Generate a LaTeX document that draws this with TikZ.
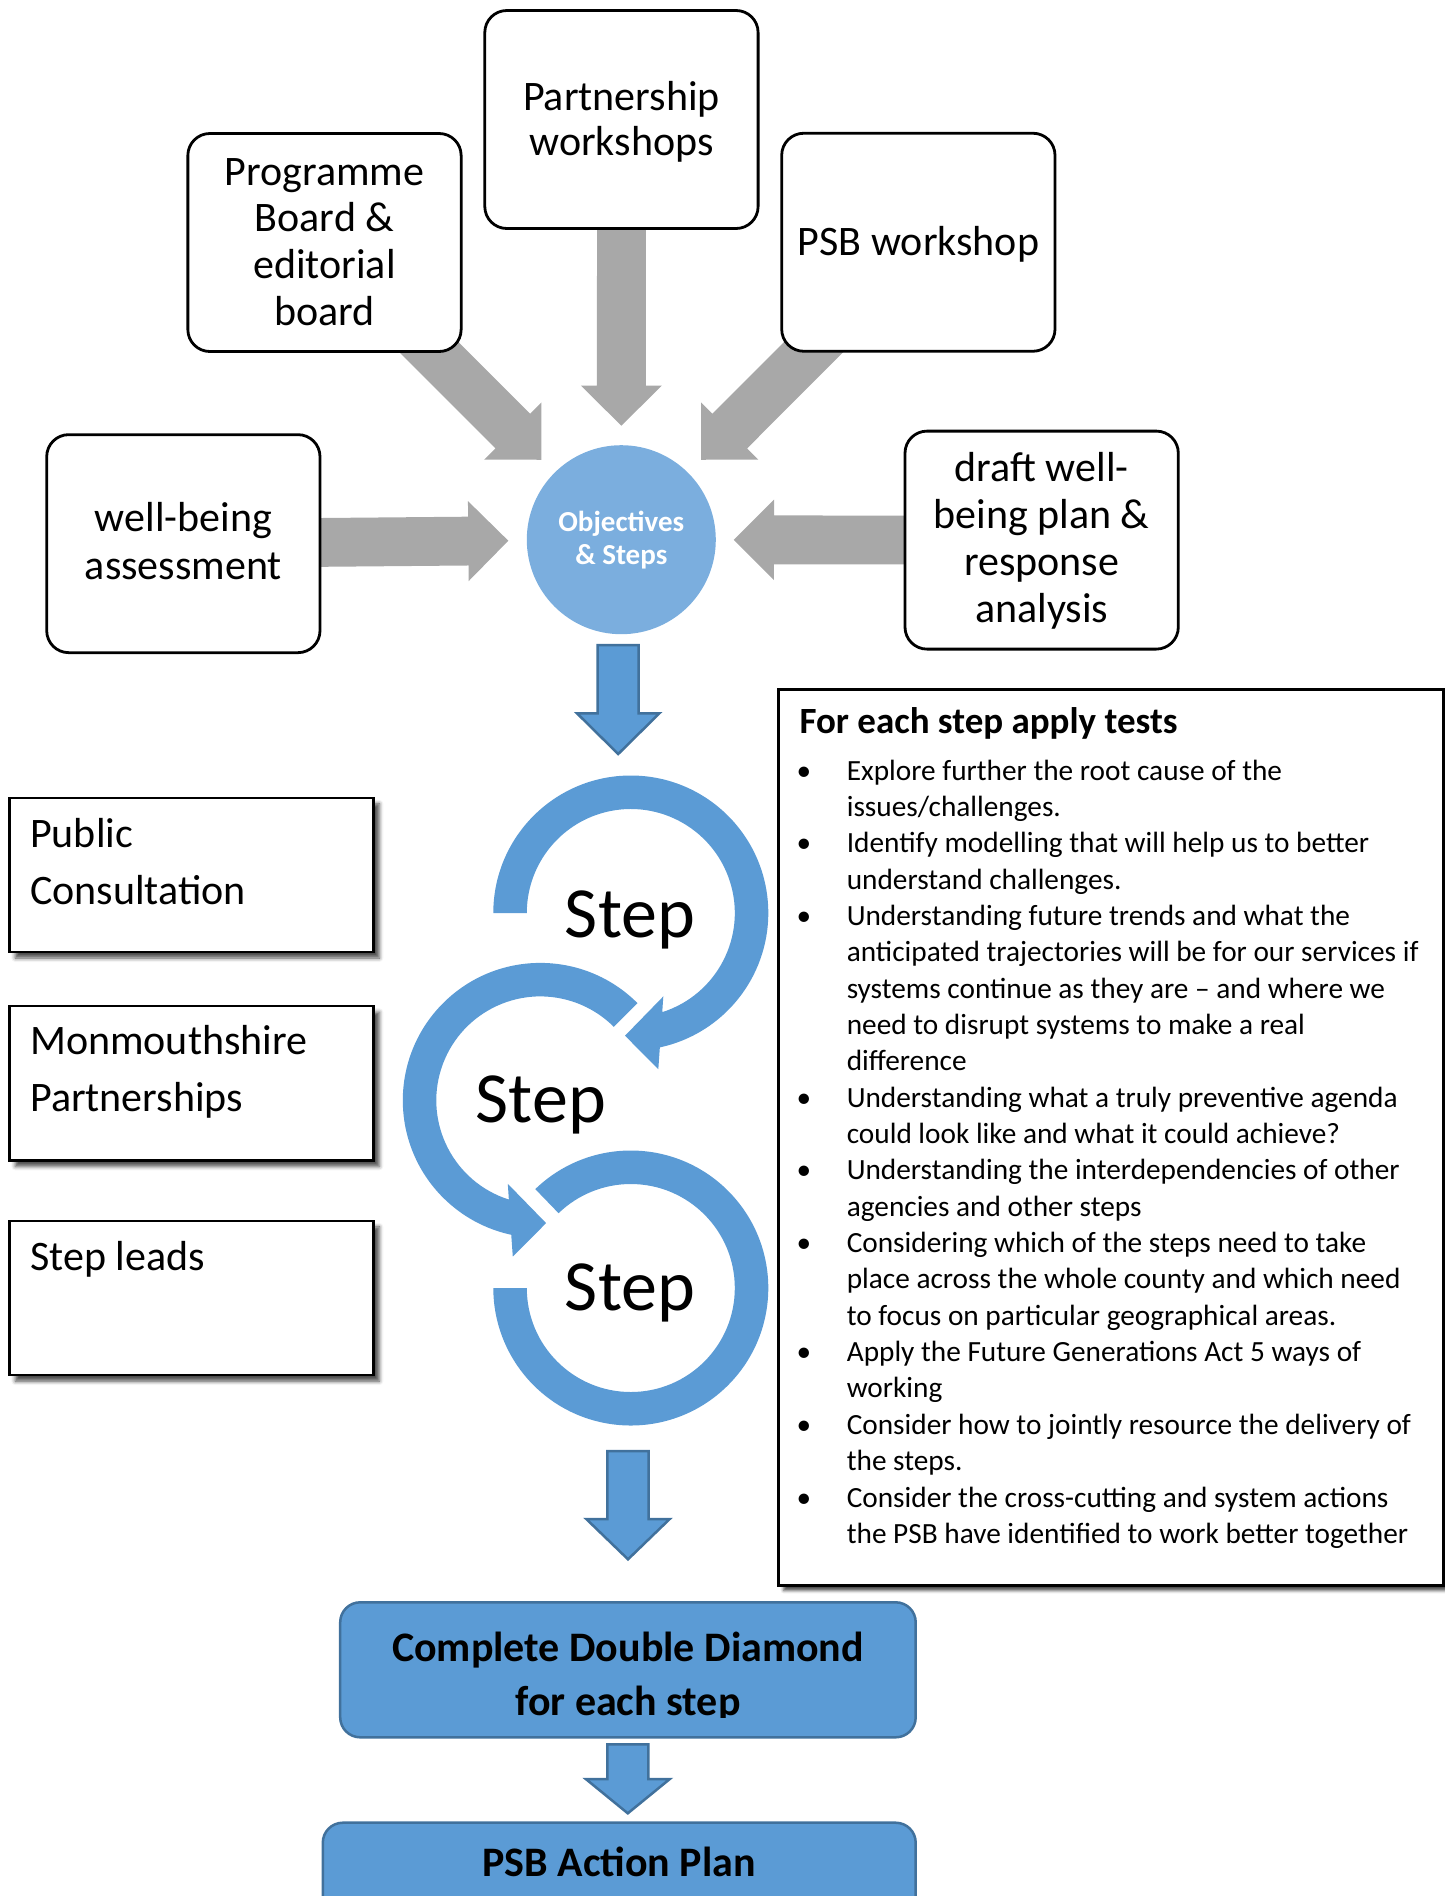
\documentclass[tikz,border=0pt]{standalone}
\usepackage{fontspec}
\setmainfont{Carlito}
\usetikzlibrary{calc,shadows.blur}
\definecolor{ringblue}{RGB}{91,155,213}
\definecolor{edgeblue}{RGB}{65,113,156}
\definecolor{circblue}{RGB}{123,174,222}
\definecolor{arrgray}{RGB}{168,168,168}
% #1 name, #2 style, #3 from, #4 to, #5 shaft half width, #6 head half width, #7 head length
\newcommand\blockarrow[7]{%
  \coordinate (#1-b) at ($(#4)!#7pt!(#3)$);
  \path[#2] ($(#3)!#5pt!90:(#4)$) -- ($(#1-b)!#5pt!90:(#4)$) -- ($(#1-b)!#6pt!90:(#4)$)
    -- (#4) -- ($(#1-b)!#6pt!-90:(#4)$) -- ($(#1-b)!#5pt!-90:(#4)$) -- ($(#3)!#5pt!-90:(#4)$) -- cycle;
}
\newcommand\tbul{\makebox[14.6pt][c]{•}\hspace*{35.7pt}}
\newcommand\tind{\hspace*{50.3pt}}
\tikzset{
  rbox/.style={draw=black, line width=2.8pt, fill=white, rounded corners=22pt,
    minimum width=273.3pt, minimum height=218pt, inner sep=0pt},
  sqbox/.style={draw=black, line width=2.4pt, fill=white, minimum width=364pt,
    minimum height=154.2pt, inner sep=0pt,
    blur shadow={shadow xshift=6pt, shadow yshift=-6pt, shadow blur radius=4pt, shadow opacity=70}},
  bluebox/.style={draw=edgeblue, line width=2.5pt, fill=ringblue, rounded corners=20pt, inner sep=0pt},
  toptxt/.style={anchor=base, inner sep=0pt, font=\fontsize{42}{46.7}\selectfont},
  lefttxt/.style={anchor=base west, inner sep=0pt, font=\fontsize{42}{57.3}\selectfont},
  steptxt/.style={anchor=base, inner sep=0pt, font=\fontsize{72}{86}\selectfont},
  garrow/.style={fill=arrgray},
  barrow/.style={fill=ringblue, draw=edgeblue, line width=2.5pt, line join=miter},
  ring/.style={fill=ringblue},
}
\begin{document}
\begin{tikzpicture}[x=1pt,y=-1pt]
\useasboundingbox (0,0) rectangle (1445,1896);

% ---------- centres of the input boxes and of the circle ----------
\coordinate (progc) at (324.5,242.5);
\coordinate (partc) at (621.45,119.5);
\coordinate (psbwc) at (918.35,242.25);
\coordinate (wbac) at (183.35,543.65);
\coordinate (draftc) at (1041.65,540.1);
\coordinate (objc) at (621.3,539.7);

% ---------- grey block arrows (drawn first, so the boxes cover their tails) ----------
\coordinate (t1) at ($(objc)!113pt!(progc)$);
\coordinate (t2) at ($(objc)!114pt!(partc)$);
\coordinate (t3) at ($(objc)!113pt!(psbwc)$);
\coordinate (t4) at ($(objc)!113pt!(wbac)$);
\coordinate (t5) at ($(objc)!112.4pt!(draftc)$);
\blockarrow{ga1}{garrow}{progc}{t1}{24.5}{40.5}{40.5}
\blockarrow{ga2}{garrow}{partc}{t2}{24.4}{40.4}{40}
\blockarrow{ga3}{garrow}{psbwc}{t3}{24.5}{40.5}{40.5}
\blockarrow{ga4}{garrow}{wbac}{t4}{24.4}{40}{40}
\blockarrow{ga5}{garrow}{draftc}{t5}{24.4}{40.3}{40.3}

% ---------- top boxes and centre circle ----------
\node[rbox] (prog) at (progc) {};
\node[rbox] (part) at (partc) {};
\node[rbox] (psbw) at (psbwc) {};
\node[rbox] (wba) at (wbac) {};
\node[rbox] (draft) at (draftc) {};
\node[circle, fill=circblue, minimum size=189pt, inner sep=0pt] (obj) at (objc) {};

\node[toptxt] (progt) at (324.5,185) {\begin{tabular}[t]{@{}c@{}}Programme\\Board \&\\editorial\\board\end{tabular}};
\node[toptxt, font=\fontsize{42}{45}\selectfont] (partt) at (621.45,110) {\begin{tabular}[t]{@{}c@{}}Partnership\\workshops\end{tabular}};
\node[toptxt] (psbwt) at (918.5,255) {PSB workshop};
\node[toptxt, font=\fontsize{42}{47.6}\selectfont] (wbat) at (183.35,531.7) {\begin{tabular}[t]{@{}c@{}}well-being\\assessment\end{tabular}};
\node[toptxt, font=\fontsize{42}{47}\selectfont] (draftt) at (1041.65,481.6) {\begin{tabular}[t]{@{}c@{}}draft well-\\being plan \&\\response\\analysis\end{tabular}};
\node[anchor=base, inner sep=0pt, text=white, font=\bfseries\fontsize{29}{32.8}\selectfont] (objt) at (621.3,531.6) {\begin{tabular}[t]{@{}c@{}}Objectives\\\& Steps\end{tabular}};

% ---------- blue arrow below circle ----------
\coordinate (b1s) at (618.2,645);
\coordinate (b1t) at (618.2,754);
\blockarrow{ba1}{barrow}{b1s}{b1t}{20.5}{41.2}{40.7}

% ---------- step rings ----------
\coordinate (tc) at (630.8,913);
\coordinate (mc) at (540.3,1100.4);
\coordinate (bc) at (630.8,1288);
\path[ring] ($(bc)+(226:137.5)$) arc[start angle=226, end angle=540, radius=137.5]
  -- ($(bc)+(540:104)$) arc[start angle=540, end angle=226, radius=104] -- cycle;
\path[ring] ($(mc)+(315:137.5)$) arc[start angle=315, end angle=102.2, radius=137.5]
  -- ($(mc)+(-27.5,156.2)$) -- ($(mc)+(5.8,122.7)$) -- ($(mc)+(-32.5,83.4)$)
  -- ($(mc)+(107.6:104)$) arc[start angle=107.6, end angle=315, radius=104] -- cycle;
\path[ring] ($(tc)+(180:137.5)$) arc[start angle=180, end angle=437.8, radius=137.5]
  -- ($(tc)+(27.5,156.2)$) -- ($(tc)+(-5.8,122.7)$) -- ($(tc)+(32.5,83.4)$)
  -- ($(tc)+(432.4:104)$) arc[start angle=432.4, end angle=180, radius=104] -- cycle;
\node[steptxt] (s1) at (630,937.5) {Step};
\node[steptxt] (s2) at (540.8,1122.8) {Step};
\node[steptxt] (s3) at (630,1310) {Step};

% ---------- left boxes ----------
\node[sqbox] (pub) at (191.3,874.9) {};
\node[sqbox] (mon) at (191.3,1083.3) {};
\node[sqbox] (lead) at (191.3,1298) {};
\node[lefttxt] (pubt) at (30,847.2) {\begin{tabular}[t]{@{}l@{}}Public\\Consultation\end{tabular}};
\node[lefttxt, font=\fontsize{42}{56.6}\selectfont] (mont) at (30,1054.8) {\begin{tabular}[t]{@{}l@{}}Monmouthshire\\Partnerships\end{tabular}};
\node[lefttxt] (leadt) at (30,1270.3) {Step leads};

% ---------- tests box ----------
\node[draw=black, line width=2.5pt, fill=white, minimum width=664.9pt, minimum height=896.2pt, inner sep=0pt,
  blur shadow={shadow xshift=5pt, shadow yshift=-5pt, shadow blur radius=3pt, shadow opacity=70}] (tests) at (1111.05,1137.4) {};
\node[anchor=base west, inner sep=0pt, font=\bfseries\fontsize{37}{44}\selectfont] (testt) at (799.3,733.3) {For each step apply tests};
\node[anchor=base west, inner sep=0pt, font=\fontsize{29.3}{36.35}\selectfont] (testl) at (796.3,780) {\begin{tabular}[t]{@{}l@{}}
\tbul Explore further the root cause of the\\
\tind issues/challenges.\\
\tbul Identify modelling that will help us to better\\
\tind understand challenges.\\
\tbul Understanding future trends and what the\\
\tind anticipated trajectories will be for our services if\\
\tind systems continue as they are – and where we\\
\tind need to disrupt systems to make a real\\
\tind difference\\
\tbul Understanding what a truly preventive agenda\\
\tind could look like and what it could achieve?\\
\tbul Understanding the interdependencies of other\\
\tind agencies and other steps\\
\tbul Considering which of the steps need to take\\
\tind place across the whole county and which need\\
\tind to focus on particular geographical areas.\\
\tbul Apply the Future Generations Act 5 ways of\\
\tind working\\
\tbul Consider how to jointly resource the delivery of\\
\tind the steps.\\
\tbul Consider the cross-cutting and system actions\\
\tind the PSB have identified to work better together
\end{tabular}};

% ---------- lower flow ----------
\coordinate (b2s) at (628,1451);
\coordinate (b2t) at (628,1559.3);
\blockarrow{ba2}{barrow}{b2s}{b2t}{20.7}{41.7}{40.3}
\node[bluebox, minimum width=575.5pt, minimum height=135pt] (dd) at (627.95,1669.8) {};
\begin{scope}
\clip (330,1595) rectangle (925,1717.5);
\node[anchor=base, inner sep=0pt, font=\bfseries\fontsize{42}{53.3}\selectfont] (ddt) at (628,1661.7) {\begin{tabular}[t]{@{}c@{}}Complete Double Diamond\\for each step\end{tabular}};
\end{scope}
\coordinate (b3s) at (627.8,1744.3);
\coordinate (b3t) at (627.8,1813.3);
\blockarrow{ba3}{barrow}{b3s}{b3t}{20.5}{42}{34.3}
\node[bluebox, minimum width=592.9pt, minimum height=150pt] (plan) at (619.25,1897.7) {};
\node[anchor=base, inner sep=0pt, font=\bfseries\fontsize{42}{50}\selectfont] (plant) at (619,1876.7) {PSB Action Plan};
\end{tikzpicture}
\end{document}
